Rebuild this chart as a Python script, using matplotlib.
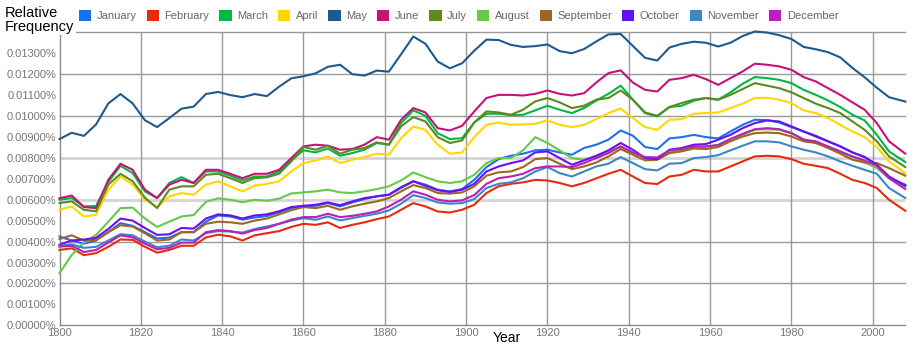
import matplotlib
matplotlib.use("Agg")
import matplotlib.pyplot as plt
from matplotlib.patches import Patch

plt.rcParams['font.family'] = ['Liberation Sans', 'DejaVu Sans']

# sample years (every 3 years, plus the last year)
years = list(range(1800, 2005, 3)) + [2008]

# relative frequency, in units of 0.001 %
january = [4.24, 4.05, 3.90, 4.05, 4.45, 4.88, 4.75, 4.45, 4.15, 4.19,
           4.45, 4.45, 4.95, 5.25, 5.20, 5.05, 5.15, 5.22, 5.40, 5.60,
           5.68, 5.71, 5.84, 5.68, 5.87, 6.03, 6.16, 6.24, 6.56, 6.88,
           6.72, 6.48, 6.40, 6.51, 6.95, 7.56, 7.94, 8.10, 8.20, 8.36,
           8.39, 8.26, 8.15, 8.47, 8.63, 8.87, 9.31, 9.06, 8.52, 8.42,
           8.93, 8.99, 9.10, 8.99, 8.93, 9.26, 9.58, 9.82, 9.80, 9.69,
           9.47, 9.26, 9.06, 8.79, 8.55, 8.26, 8.04, 7.67, 7.03, 6.72]
february = [3.60, 3.68, 3.35, 3.45, 3.75, 4.10, 4.08, 3.75, 3.47, 3.60,
            3.80, 3.80, 4.20, 4.33, 4.25, 4.05, 4.30, 4.40, 4.50, 4.70,
            4.85, 4.80, 4.92, 4.65, 4.80, 4.92, 5.07, 5.20, 5.52, 5.84,
            5.68, 5.44, 5.39, 5.52, 5.76, 6.32, 6.64, 6.76, 6.83, 6.95,
            6.92, 6.80, 6.64, 6.80, 7.02, 7.24, 7.43, 7.11, 6.80, 6.75,
            7.11, 7.19, 7.43, 7.35, 7.35, 7.59, 7.83, 8.07, 8.10, 8.07,
            7.94, 7.72, 7.62, 7.51, 7.24, 6.95, 6.80, 6.56, 6.00, 5.47]
march = [6.00, 6.08, 5.68, 5.70, 6.85, 7.62, 7.27, 6.40, 6.08, 6.80,
         7.08, 6.80, 7.35, 7.35, 7.15, 6.92, 7.11, 7.11, 7.35, 7.88,
         8.36, 8.26, 8.45, 8.10, 8.23, 8.39, 8.71, 8.63, 9.66, 10.27,
         10.01, 9.18, 8.90, 8.94, 9.69, 10.11, 10.11, 10.04, 10.06, 10.27,
         10.49, 10.30, 10.14, 10.38, 10.74, 11.06, 11.45, 10.78, 10.14, 9.98,
         10.43, 10.49, 10.73, 10.86, 10.78, 11.13, 11.54, 11.86, 11.81, 11.73,
         11.57, 11.25, 11.01, 10.74, 10.43, 10.06, 9.79, 9.10, 8.31, 7.80]
april = [5.52, 5.68, 5.20, 5.28, 6.48, 7.11, 6.72, 6.00, 5.65, 6.16,
         6.32, 6.24, 6.72, 6.88, 6.64, 6.40, 6.67, 6.76, 6.88, 7.35,
         7.75, 7.88, 8.07, 7.75, 7.91, 8.04, 8.20, 8.15, 8.94, 9.50,
         9.34, 8.63, 8.20, 8.26, 8.99, 9.58, 9.69, 9.58, 9.60, 9.63,
         9.79, 9.58, 9.47, 9.58, 9.85, 10.14, 10.36, 9.90, 9.47, 9.34,
         9.82, 9.85, 10.11, 10.14, 10.17, 10.38, 10.59, 10.86, 10.87, 10.78,
         10.62, 10.27, 10.14, 9.90, 9.58, 9.26, 8.99, 8.52, 7.83, 7.27]
may = [8.90, 9.20, 9.05, 9.60, 10.60, 11.05, 10.60, 9.80, 9.47, 9.90,
       10.35, 10.45, 11.05, 11.15, 11.00, 10.90, 11.05, 10.95, 11.40, 11.80,
       11.90, 12.04, 12.35, 12.45, 12.00, 11.93, 12.17, 12.12, 12.95, 13.80,
       13.45, 12.60, 12.28, 12.52, 13.12, 13.65, 13.63, 13.40, 13.30, 13.34,
       13.42, 13.10, 13.00, 13.20, 13.56, 13.90, 13.92, 13.35, 12.78, 12.65,
       13.27, 13.45, 13.55, 13.50, 13.32, 13.50, 13.82, 14.04, 13.99, 13.86,
       13.68, 13.30, 13.19, 13.05, 12.80, 12.30, 11.85, 11.35, 10.90, 10.69]
june = [6.07, 6.20, 5.65, 5.60, 6.95, 7.72, 7.43, 6.48, 6.08, 6.72,
        6.95, 6.80, 7.43, 7.43, 7.24, 7.03, 7.24, 7.24, 7.43, 7.99,
        8.55, 8.63, 8.58, 8.39, 8.42, 8.63, 8.99, 8.87, 9.82, 10.38,
        10.17, 9.42, 9.31, 9.53, 10.22, 10.86, 11.01, 11.01, 10.98, 11.06,
        11.22, 11.06, 10.98, 11.09, 11.60, 12.05, 12.18, 11.60, 11.25, 11.17,
        11.73, 11.81, 11.97, 11.76, 11.49, 11.81, 12.13, 12.50, 12.45, 12.37,
        12.21, 11.86, 11.65, 11.33, 11.01, 10.65, 10.30, 9.66, 8.79, 8.20]
july = [5.84, 5.92, 5.52, 5.45, 6.72, 7.24, 6.88, 6.10, 5.60, 6.48,
        6.64, 6.64, 7.19, 7.24, 7.03, 6.80, 7.03, 7.07, 7.24, 7.83,
        8.52, 8.39, 8.58, 8.20, 8.39, 8.47, 8.74, 8.63, 9.50, 9.95,
        9.74, 8.99, 8.71, 8.83, 9.69, 10.22, 10.17, 10.06, 10.30, 10.70,
        10.86, 10.65, 10.38, 10.49, 10.78, 10.86, 11.22, 10.78, 10.17, 10.01,
        10.43, 10.62, 10.78, 10.86, 10.78, 11.01, 11.29, 11.57, 11.45, 11.33,
        11.13, 10.86, 10.59, 10.38, 10.14, 9.74, 9.34, 8.79, 8.07, 7.56]
august = [2.49, 3.36, 3.95, 4.32, 4.95, 5.60, 5.62, 5.10, 4.70, 4.95,
          5.20, 5.27, 5.90, 6.07, 6.00, 5.88, 6.00, 5.95, 6.05, 6.30,
          6.35, 6.40, 6.48, 6.35, 6.32, 6.40, 6.51, 6.64, 6.92, 7.30,
          7.08, 6.88, 6.80, 6.88, 7.19, 7.75, 7.99, 7.99, 8.36, 8.99,
          8.71, 8.36, 7.99, 7.91, 8.07, 8.31, 8.52, 8.20, 7.99, 7.94,
          8.26, 8.36, 8.52, 8.52, 8.63, 8.90, 9.10, 9.34, 9.37, 9.34,
          9.18, 8.90, 8.71, 8.52, 8.26, 8.04, 7.78, 7.51, 7.03, 6.64]
september = [4.12, 4.30, 4.05, 4.08, 4.45, 4.78, 4.72, 4.40, 4.05, 4.10,
             4.45, 4.45, 4.85, 4.95, 4.92, 4.85, 5.00, 5.10, 5.30, 5.50,
             5.65, 5.60, 5.71, 5.52, 5.68, 5.81, 5.92, 6.08, 6.40, 6.70,
             6.56, 6.32, 6.29, 6.35, 6.64, 7.15, 7.31, 7.35, 7.56, 7.94,
             7.99, 7.72, 7.46, 7.59, 7.78, 8.07, 8.42, 8.15, 7.88, 7.91,
             8.23, 8.31, 8.45, 8.42, 8.52, 8.79, 9.02, 9.18, 9.21, 9.18,
             9.02, 8.79, 8.71, 8.47, 8.20, 7.91, 7.78, 7.75, 7.51, 7.15]
october = [3.85, 4.05, 4.10, 4.18, 4.60, 5.10, 5.00, 4.65, 4.32, 4.35,
           4.65, 4.62, 5.10, 5.30, 5.25, 5.10, 5.25, 5.30, 5.45, 5.65,
           5.71, 5.76, 5.87, 5.74, 5.92, 6.08, 6.16, 6.24, 6.60, 6.88,
           6.67, 6.45, 6.37, 6.48, 6.76, 7.35, 7.59, 7.75, 7.88, 8.26,
           8.31, 7.99, 7.67, 7.88, 8.10, 8.36, 8.71, 8.39, 7.99, 7.94,
           8.39, 8.47, 8.63, 8.66, 8.87, 9.10, 9.42, 9.66, 9.79, 9.74,
           9.50, 9.26, 9.02, 8.79, 8.55, 8.26, 8.04, 7.67, 7.11, 6.67]
november = [3.80, 3.87, 3.70, 3.75, 4.05, 4.35, 4.30, 4.00, 3.73, 3.80,
            4.10, 4.05, 4.40, 4.50, 4.48, 4.43, 4.60, 4.72, 4.85, 5.00,
            5.12, 5.04, 5.20, 5.01, 5.12, 5.23, 5.33, 5.49, 5.81, 6.22,
            6.08, 5.87, 5.81, 5.84, 6.03, 6.56, 6.76, 6.83, 7.03, 7.35,
            7.56, 7.27, 7.11, 7.35, 7.59, 7.72, 8.04, 7.75, 7.46, 7.40,
            7.72, 7.75, 7.99, 8.04, 8.13, 8.36, 8.58, 8.79, 8.79, 8.74,
            8.55, 8.39, 8.26, 8.07, 7.83, 7.62, 7.43, 7.24, 6.56, 6.08]
december = [3.76, 3.80, 3.50, 3.60, 3.95, 4.30, 4.20, 3.90, 3.63, 3.70,
            3.95, 3.95, 4.45, 4.55, 4.50, 4.38, 4.55, 4.65, 4.85, 5.05,
            5.17, 5.17, 5.33, 5.17, 5.23, 5.33, 5.44, 5.68, 6.00, 6.40,
            6.24, 6.00, 5.92, 5.97, 6.22, 6.76, 7.03, 7.11, 7.24, 7.51,
            7.59, 7.59, 7.56, 7.75, 7.99, 8.23, 8.55, 8.26, 8.04, 8.02,
            8.36, 8.42, 8.55, 8.55, 8.61, 8.90, 9.15, 9.37, 9.42, 9.37,
            9.18, 8.87, 8.79, 8.55, 8.31, 8.07, 7.88, 7.62, 7.03, 6.51]

months = ["January", "February", "March", "April", "May", "June", "July",
          "August", "September", "October", "November", "December"]
series = [january, february, march, april, may, june, july,
          august, september, october, november, december]
colors = ["#1c6ff2", "#e52b0c", "#00b843", "#ffd700", "#1f5a8e", "#c8107a",
          "#5b8b1f", "#66c94a", "#9e6620", "#6a0ff2", "#3d85c6", "#b920b9"]

fig = plt.figure(figsize=(9.17, 3.46), dpi=100)
ax = fig.add_axes([59.5 / 917, 1 - 325.3 / 346, (905.3 - 59.5) / 917, (325.3 - 32.3) / 346])

for vals, name, c in zip(series, months, colors):
    ax.plot(years, vals, color=c, lw=1.5, label=name, clip_on=False,
            solid_joinstyle="round", zorder=3)

ax.set_xlim(1800, 2008)
ax.set_ylim(0, 14)
ax.set_yticks(range(0, 14))
ax.set_yticklabels([f"{t * 0.001:.5f}%" for t in range(14)])
ax.set_xticks(range(1800, 2001, 20))
ax.tick_params(length=0, labelsize=8, labelcolor="#777777", pad=2)

# grid
for y in range(2, 15, 2):
    if y in (6, 8):
        ax.axhline(y, color="#d4d4d4", lw=2, zorder=1)
    else:
        ax.axhline(y, color="#9a9a9a", lw=1, zorder=1, clip_on=False)
for x in range(1820, 2001, 20):
    ax.axvline(x, color="#9a9a9a", lw=1, zorder=1)

for s in ["top", "right"]:
    ax.spines[s].set_visible(False)
for s in ["left", "bottom"]:
    ax.spines[s].set_color("#8a8a8a")
    ax.spines[s].set_linewidth(1)

handles = [Patch(facecolor=c, edgecolor="none", label=m) for m, c in zip(months, colors)]
fig.legend(handles=handles, loc="upper left", bbox_to_anchor=(79 / 917, 1 - 10 / 346),
           ncol=12, frameon=False, fontsize=8, handlelength=1.1, handleheight=1.1,
           handletextpad=0.5, columnspacing=0.9, borderpad=0, borderaxespad=0,
           labelcolor="#666666")

fig.text(5 / 917, 1 - 6 / 346, "Relative\nFrequency", fontsize=10.5, va="top", ha="left",
         linespacing=1.0, bbox=dict(facecolor="white", edgecolor="none", pad=1))
fig.text(507 / 917, 1 - 338 / 346, "Year", ha="center", va="center", fontsize=10)

fig.savefig("out.png", dpi=100)
